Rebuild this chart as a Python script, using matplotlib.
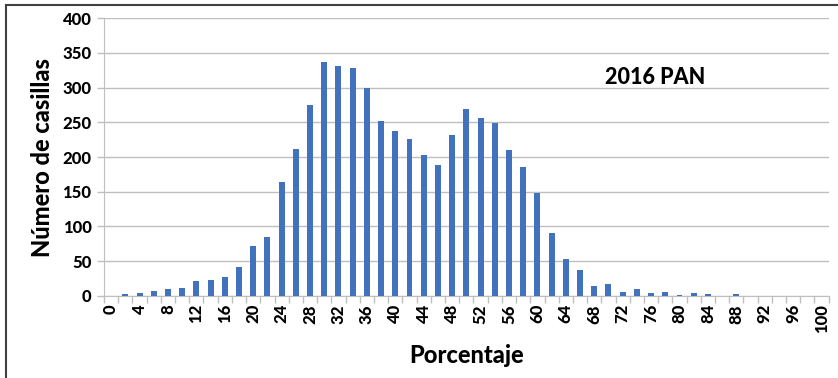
import matplotlib

matplotlib.use("Agg")
import matplotlib.pyplot as plt  # noqa: E402
from matplotlib.lines import Line2D  # noqa: E402
import numpy as np  # noqa: E402

plt.rcParams["font.family"] = ["Lato", "DejaVu Sans"]

# porcentaje bins (every 2 %) and number of casillas per bin
PERCENT = list(range(0, 101, 2))
CASILLAS = [
    0, 2.4, 3.8, 7.2, 10, 11.5, 20.7, 22.6, 27.4, 41.3,
    71.6, 84.6, 164, 211.5, 275, 337.5, 330.5, 327.9, 299.5, 251.9,
    237.5, 225.5, 202.4, 188, 231.7, 269.7, 256.7, 249.5, 210, 185.6,
    148, 90.4, 52.9, 36.5, 13.5, 16.8, 5.8, 9.6, 3.4, 5.8,
    1.4, 3.8, 1.9, 0, 2.9, 0, 0, 0, 0, 0, 0,
]
Y_TICKS = list(range(0, 401, 50))
LABEL = "2016 PAN"

BAR_COLOR = "#4272BD"
GRID_COLOR = "#BFBFBF"
WEIGHT = 900

fig = plt.figure(figsize=(8.38, 3.78), dpi=100)
axis = fig.add_axes([0.1241, 0.2177, 0.8648, 0.7339])

index = np.arange(len(PERCENT))
axis.bar(index, CASILLAS, width=0.42, color=BAR_COLOR, zorder=3)

axis.set_xlim(-0.5, len(PERCENT) - 0.5)
axis.set_ylim(0, 400)
axis.set_yticks(Y_TICKS)
axis.set_yticklabels([str(v) for v in Y_TICKS], fontsize=12, fontweight=WEIGHT)
axis.yaxis.grid(True, color=GRID_COLOR, lw=1, zorder=0)

# labels every 4 %, tick marks on every category boundary
axis.set_xticks(index[::2])
axis.set_xticklabels(
    [str(p) for p in PERCENT[::2]], rotation=90, fontsize=12, fontweight=WEIGHT
)
axis.tick_params(axis="x", which="major", length=0, pad=6)
axis.set_xticks(np.arange(-0.5, len(PERCENT), 1), minor=True)
axis.tick_params(axis="x", which="minor", length=5, color=GRID_COLOR, width=1)
axis.tick_params(axis="y", length=5, color=GRID_COLOR, width=1, pad=4)

for side in ["top", "right"]:
    axis.spines[side].set_visible(False)
axis.spines["left"].set_color(GRID_COLOR)
axis.spines["bottom"].set_color(GRID_COLOR)

axis.set_ylabel("Número de casillas", fontsize=17, fontweight=WEIGHT, labelpad=6)
axis.set_xlabel("Porcentaje", fontsize=17, fontweight=WEIGHT, labelpad=8)

axis.text(
    38.3, 314, LABEL, ha="center", va="center", fontsize=15.5, fontweight=WEIGHT
)

# chart border (only top and left edges show in the crop)
fig.add_artist(
    Line2D([6 / 838, 6 / 838], [0, 1 - 5 / 378], transform=fig.transFigure,
           color="#404040", lw=1.5)
)
fig.add_artist(
    Line2D([6 / 838, 1], [1 - 5 / 378, 1 - 5 / 378], transform=fig.transFigure,
           color="#404040", lw=1.5)
)

fig.savefig("out.png", dpi=100)
